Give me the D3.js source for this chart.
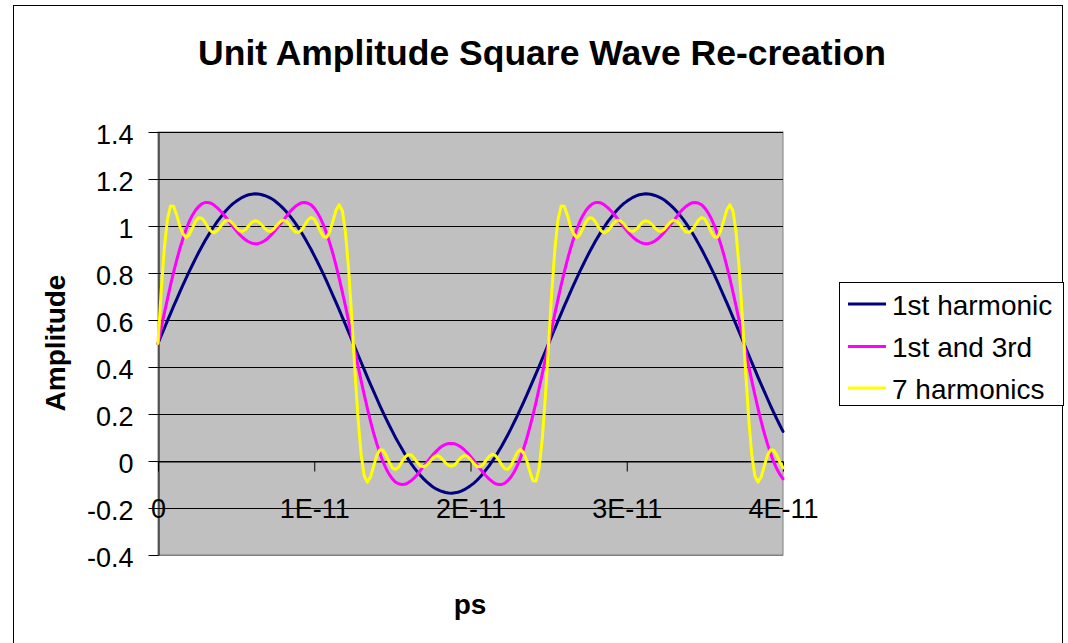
<!DOCTYPE html>
<html><head><meta charset="utf-8">
<script src="https://cdn.jsdelivr.net/npm/d3@7"></script>
<style>
body{margin:0;background:#fff}
svg{display:block}
text{font-family:"Liberation Sans",Arial,Helvetica,sans-serif;fill:#000}
</style>
</head><body>
<svg id="chart" width="1068" height="643"></svg>
<script>
// time axis (ps), sampled every 0.2 ps
const timePs = [0,0.2,0.4,0.6,0.8,1,1.2,1.4,1.6,1.8,2,2.2,2.4,2.6,2.8,3,3.2,3.4,3.6,3.8,4,4.2,4.4,4.6,4.8,5,5.2,5.4,5.6,5.8,6,6.2,6.4,6.6,6.8,7,7.2,7.4,7.6,7.8,8,8.2,8.4,8.6,8.8,9,9.2,9.4,9.6,9.8,10,10.2,10.4,10.6,10.8,11,11.2,11.4,11.6,11.8,12,12.2,12.4,12.6,12.8,13,13.2,13.4,13.6,13.8,14,14.2,14.4,14.6,14.8,15,15.2,15.4,15.6,15.8,16,16.2,16.4,16.6,16.8,17,17.2,17.4,17.6,17.8,18,18.2,18.4,18.6,18.8,19,19.2,19.4,19.6,19.8,20,20.2,20.4,20.6,20.8,21,21.2,21.4,21.6,21.8,22,22.2,22.4,22.6,22.8,23,23.2,23.4,23.6,23.8,24,24.2,24.4,24.6,24.8,25,25.2,25.4,25.6,25.8,26,26.2,26.4,26.6,26.8,27,27.2,27.4,27.6,27.8,28,28.2,28.4,28.6,28.8,29,29.2,29.4,29.6,29.8,30,30.2,30.4,30.6,30.8,31,31.2,31.4,31.6,31.8,32,32.2,32.4,32.6,32.8,33,33.2,33.4,33.6,33.8,34,34.2,34.4,34.6,34.8,35,35.2,35.4,35.6,35.8,36,36.2,36.4,36.6,36.8,37,37.2,37.4,37.6,37.8,38,38.2,38.4,38.6,38.8,39,39.2,39.4,39.6,39.8,40];

const firstHarmonic = [
0.5,0.532,0.564,0.596,0.627,0.659,0.689,0.720,0.749,0.778,0.807,0.834,0.861,0.887,0.912,0.936,0.958,0.981,1.000,1.020,1.037,1.054,1.069,1.083,1.095,1.105,1.114,1.122,1.128,1.133,1.135,1.137,
1.136,1.134,1.130,1.125,1.119,1.111,1.100,1.089,1.076,1.062,1.046,1.029,1.011,0.991,0.970,0.948,0.924,0.900,0.874,0.848,0.821,0.793,0.764,0.734,0.704,0.674,0.643,0.611,0.580,0.548,0.516,
0.484,0.452,0.420,0.389,0.357,0.326,0.296,0.266,0.236,0.207,0.179,0.152,0.126,0.100,0.076,0.053,0.030,0.009,-0.011,-0.029,-0.046,-0.062,-0.076,-0.089,-0.100,-0.111,-0.119,-0.125,-0.130,-0.134,-0.136,
-0.137,-0.135,-0.133,-0.128,-0.122,-0.114,-0.105,-0.095,-0.083,-0.069,-0.054,-0.037,-0.020,0.000,0.019,0.042,0.064,0.088,0.113,0.139,0.166,0.193,0.222,0.251,0.280,0.311,0.342,0.373,0.404,0.436,0.468,
0.5,0.532,0.564,0.596,0.627,0.659,0.689,0.720,0.749,0.778,0.807,0.834,0.861,0.887,0.912,0.936,0.958,0.981,1.000,1.020,1.037,1.054,1.069,1.083,1.095,1.105,1.114,1.122,1.128,1.133,1.135,1.137,
1.136,1.134,1.130,1.125,1.119,1.111,1.100,1.089,1.076,1.062,1.046,1.029,1.011,0.991,0.970,0.948,0.924,0.900,0.874,0.848,0.821,0.793,0.764,0.734,0.704,0.674,0.643,0.611,0.580,0.548,0.516,
0.484,0.452,0.420,0.389,0.357,0.326,0.296,0.266,0.236,0.207,0.179,0.152,0.126];

const firstAndThird = [
0.5,0.564,0.627,0.688,0.748,0.804,0.856,0.904,0.947,0.986,1.019,1.046,1.067,1.083,1.094,1.100,1.100,1.097,1.088,1.077,1.064,1.049,1.032,1.014,0.997,0.981,0.965,0.952,0.941,0.933,0.927,0.925,
0.925,0.929,0.936,0.946,0.959,0.973,0.989,1.006,1.023,1.040,1.057,1.072,1.084,1.093,1.099,1.100,1.097,1.090,1.076,1.057,1.033,1.003,0.967,0.926,0.881,0.830,0.776,0.718,0.658,0.595,0.532,
0.468,0.405,0.342,0.282,0.224,0.170,0.119,0.074,0.033,-0.003,-0.033,-0.057,-0.076,-0.090,-0.097,-0.100,-0.099,-0.093,-0.084,-0.072,-0.057,-0.040,-0.023,-0.006,0.011,0.027,0.041,0.054,0.064,0.071,0.075,
0.075,0.073,0.067,0.059,0.048,0.035,0.019,0.003,-0.014,-0.032,-0.049,-0.064,-0.077,-0.088,-0.097,-0.100,-0.100,-0.094,-0.083,-0.067,-0.046,-0.019,0.014,0.053,0.096,0.144,0.196,0.252,0.312,0.373,0.436,
0.5,0.564,0.627,0.688,0.748,0.804,0.856,0.904,0.947,0.986,1.019,1.046,1.067,1.083,1.094,1.100,1.100,1.097,1.088,1.077,1.064,1.049,1.032,1.014,0.997,0.981,0.965,0.952,0.941,0.933,0.927,0.925,
0.925,0.929,0.936,0.946,0.959,0.973,0.989,1.006,1.023,1.040,1.057,1.072,1.084,1.093,1.099,1.100,1.097,1.090,1.076,1.057,1.033,1.003,0.967,0.926,0.881,0.830,0.776,0.718,0.658,0.595,0.532,
0.468,0.405,0.342,0.282,0.224,0.170,0.119,0.074,0.033,-0.003,-0.033,-0.057,-0.076];

const sevenHarmonics = [
0.5,0.718,0.902,1.027,1.085,1.084,1.046,0.998,0.967,0.950,0.963,0.991,1.019,1.035,1.033,1.017,0.994,0.977,0.971,0.980,0.997,1.015,1.025,1.022,1.010,0.993,0.980,0.977,0.985,1.000,1.016,1.022,
1.019,1.008,0.992,0.980,0.977,0.986,1.002,1.017,1.025,1.021,1.007,0.988,0.974,0.973,0.984,1.005,1.026,1.036,1.029,1.005,0.976,0.954,0.952,0.977,1.022,1.068,1.090,1.064,0.972,0.816,0.611,
0.389,0.184,0.028,-0.064,-0.090,-0.068,-0.022,0.023,0.048,0.046,0.024,-0.005,-0.029,-0.036,-0.026,-0.005,0.016,0.027,0.026,0.012,-0.007,-0.021,-0.025,-0.017,-0.002,0.014,0.023,0.020,0.008,-0.008,-0.019,
-0.022,-0.016,0.000,0.015,0.023,0.020,0.007,-0.010,-0.022,-0.025,-0.015,0.003,0.020,0.029,0.023,0.006,-0.017,-0.033,-0.035,-0.019,0.009,0.037,0.050,0.033,0.002,-0.046,-0.084,-0.085,-0.027,0.098,0.282,
0.5,0.718,0.902,1.027,1.085,1.084,1.046,0.998,0.967,0.950,0.963,0.991,1.019,1.035,1.033,1.017,0.994,0.977,0.971,0.980,0.997,1.015,1.025,1.022,1.010,0.993,0.980,0.977,0.985,1.000,1.016,1.022,
1.019,1.008,0.992,0.980,0.977,0.986,1.002,1.017,1.025,1.021,1.007,0.988,0.974,0.973,0.984,1.005,1.026,1.036,1.029,1.005,0.976,0.954,0.952,0.977,1.022,1.068,1.090,1.064,0.972,0.816,0.611,
0.389,0.184,0.028,-0.064,-0.090,-0.068,-0.022,0.023,0.048,0.046,0.024,-0.005,-0.029];

const seriesNames = ["1st harmonic","1st and 3rd","7 harmonics"];
const seriesColors = ["#000080","#FF00FF","#FFFF00"];
const xTickValues = [0,10,20,30,40];
const xTickLabels = ["0","1E-11","2E-11","3E-11","4E-11"];
const yTickValues = [-0.4,-0.2,0,0.2,0.4,0.6,0.8,1,1.2,1.4];
const yTickLabels = ["-0.4","-0.2","0","0.2","0.4","0.6","0.8","1","1.2","1.4"];
const chartTitle = "Unit Amplitude Square Wave Re-creation";
const xTitle = "ps";
const yTitle = "Amplitude";

const svg = d3.select("#chart");
const L = 158, R = 783, T = 132, B = 555;
const x = d3.scaleLinear().domain([0,40]).range([L,R]);
const y = d3.scaleLinear().domain([-0.4,1.4]).range([B,T]);

// chart border
svg.append("rect").attr("x",13.5).attr("y",5.5).attr("width",1049).attr("height",660)
  .attr("fill","#fff").attr("stroke","#000").attr("stroke-width",1);

// plot area
svg.append("rect").attr("x",L).attr("y",T).attr("width",R-L).attr("height",B-T)
  .attr("fill","#C0C0C0").attr("stroke","#808080").attr("stroke-width",1);

// gridlines
svg.append("g").selectAll("line").data(yTickValues).join("line")
  .attr("x1",L).attr("x2",R)
  .attr("y1",d=>Math.round(y(d))+0.5).attr("y2",d=>Math.round(y(d))+0.5)
  .attr("stroke",d=>d===-0.4?"#808080":"#000").attr("stroke-width",1);

// y axis
const yAxis = svg.append("g").attr("transform",`translate(${L+0.5},0)`)
  .call(d3.axisLeft(y).tickValues(yTickValues).tickFormat((d,i)=>yTickLabels[i]).tickSize(10).tickSizeOuter(0).tickPadding(15));
yAxis.select(".domain").attr("stroke","#000");
yAxis.selectAll(".tick line").attr("stroke","#000");
yAxis.selectAll(".tick text").attr("font-size",27).attr("font-family","Liberation Sans, Arial, sans-serif").attr("dy","0.43em");

// x axis at y=0
const xAxis = svg.append("g").attr("transform",`translate(0,${Math.round(y(0))+0.5})`)
  .call(d3.axisBottom(x).tickValues(xTickValues).tickFormat((d,i)=>xTickLabels[i]).tickSize(10).tickSizeOuter(0));
xAxis.select(".domain").attr("stroke","#000");
xAxis.selectAll(".tick line").attr("stroke","#000");
xAxis.selectAll(".tick text").attr("font-size",27).attr("font-family","Liberation Sans, Arial, sans-serif").attr("y",56).attr("dy",0);

// series
const series = [firstHarmonic, firstAndThird, sevenHarmonics];
const line = d3.line().x((d,i)=>x(timePs[i])).y(d=>y(d));
svg.append("g").selectAll("path").data(series).join("path")
  .attr("d",d=>line(d)).attr("fill","none")
  .attr("stroke",(d,i)=>seriesColors[i]).attr("stroke-width",3)
  .attr("stroke-linejoin","round").attr("stroke-linecap","round");

// titles
svg.append("text").attr("x",542).attr("y",65).attr("text-anchor","middle")
  .attr("font-size",35.5).attr("font-weight","bold").text(chartTitle);
svg.append("text").attr("x",470).attr("y",614).attr("text-anchor","middle")
  .attr("font-size",28).attr("font-weight","bold").text(xTitle);
svg.append("text").attr("transform","translate(65,343) rotate(-90)").attr("text-anchor","middle")
  .attr("font-size",28).attr("font-weight","bold").text(yTitle);

// legend
const lg = svg.append("g");
lg.append("rect").attr("x",839.5).attr("y",282.5).attr("width",224).attr("height",123)
  .attr("fill","#fff").attr("stroke","#000").attr("stroke-width",1);
const legendRowY = [304,346.5,388];
seriesNames.forEach((name,i)=>{
  lg.append("line").attr("x1",848).attr("x2",886).attr("y1",legendRowY[i]).attr("y2",legendRowY[i])
    .attr("stroke",seriesColors[i]).attr("stroke-width",3);
  lg.append("text").attr("x",892).attr("y",legendRowY[i]+10.5).attr("font-size",28).text(name);
});
</script>
</body></html>
